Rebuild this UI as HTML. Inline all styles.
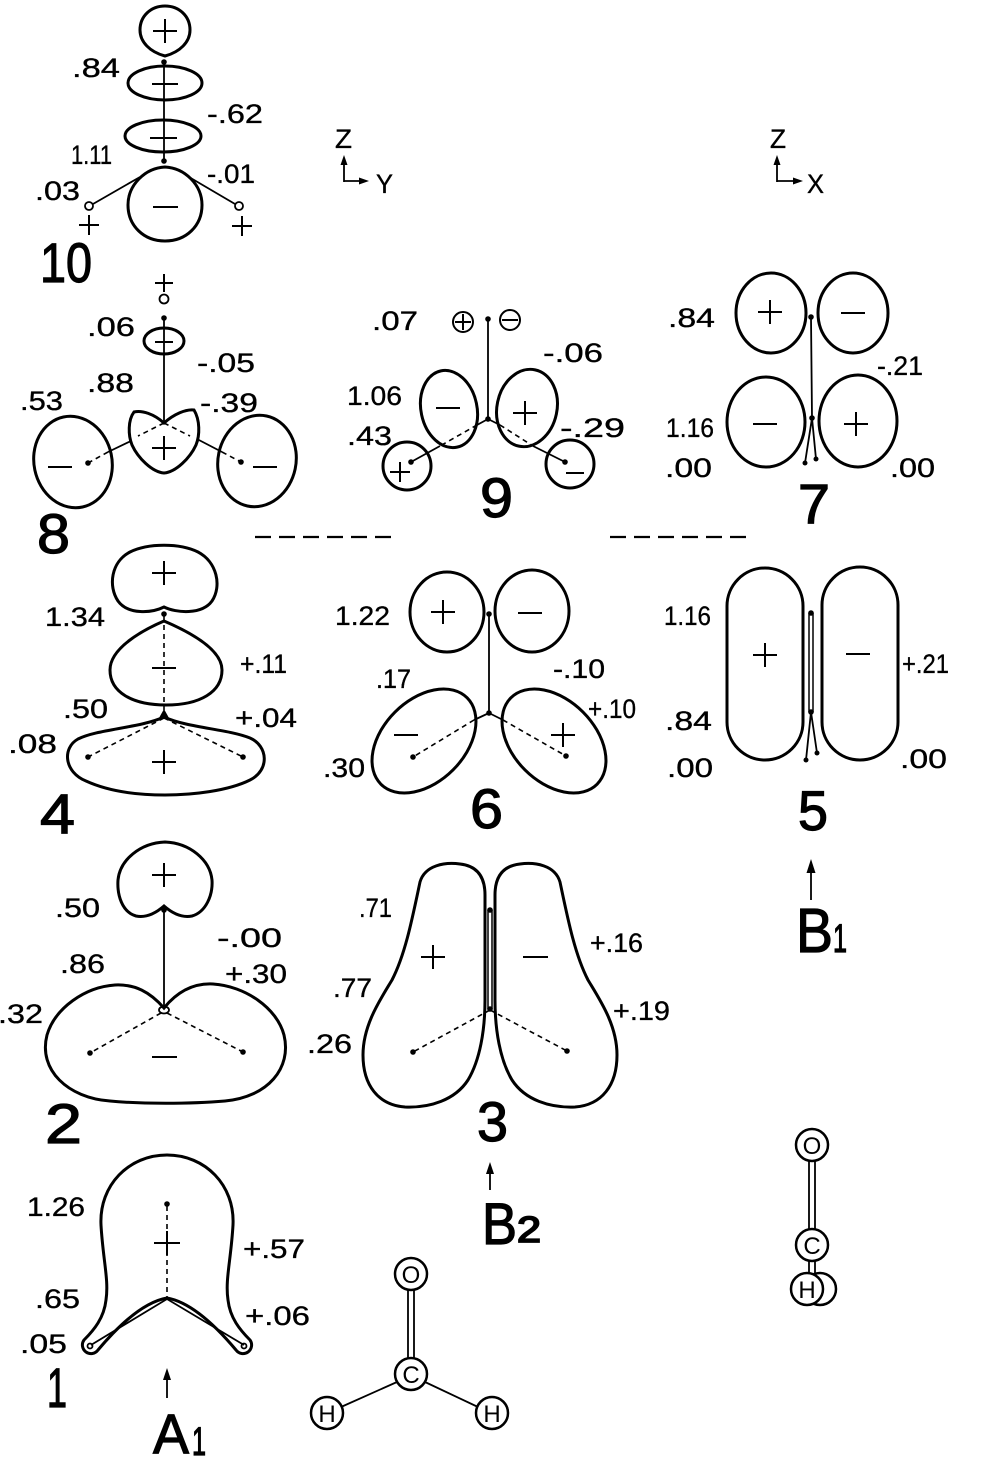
<!DOCTYPE html>
<html><head><meta charset="utf-8">
<style>
html,body{margin:0;padding:0;background:#fff;}
svg{display:block;}
text{font-family:"Liberation Sans",sans-serif;fill:#000;}
.l{font-size:27px;stroke:#000;stroke-width:0.35px;}
.big{font-size:56px;stroke:#000;stroke-width:1.2px;}
.o{fill:none;stroke:#000;stroke-width:3;}
.s{fill:none;stroke:#000;stroke-width:2;}
.t{fill:none;stroke:#000;stroke-width:1.8;}
.d{fill:none;stroke:#000;stroke-width:1.6;stroke-dasharray:5 4;}
.m{fill:#fff;stroke:#000;stroke-width:2.5;}
.ml{font-size:24px;}
</style></head><body>
<svg width="996" height="1462" viewBox="0 0 996 1462" xmlns="http://www.w3.org/2000/svg">
<rect width="996" height="1462" fill="#fff"/>

<!-- ===== Orbital 10 ===== -->
<path class="o" d="M165,56 C150,52 140,42 140,30 C140,16 151,6 165,6 C179,6 190,16 190,30 C190,42 180,52 165,56 Z"/>
<path class="s" d="M153,31h24M165,19v24"/>
<circle cx="164" cy="62" r="2.8"/>
<ellipse class="o" cx="165" cy="83" rx="37" ry="17"/>
<path class="s" d="M152,84h26"/>
<ellipse class="o" cx="163" cy="136" rx="38" ry="16"/>
<path class="s" d="M150,138h27"/>
<path class="t" d="M164,62V161"/>
<circle cx="164" cy="161" r="2.8"/>
<path class="o" d="M165,167 C185,168 202,185 202,205 C202,226 186,241 165,241 C144,241 128,226 128,205 C128,185 145,168 165,167 Z"/>
<path class="s" d="M153,207h25"/>
<path class="t" d="M140,177L93,204M189,177L235,204"/>
<circle class="t" cx="89" cy="206" r="4"/>
<circle class="t" cx="239" cy="206" r="4"/>
<path class="s" d="M79,225h20M89,215v20M232,226h20M242,216v20"/>
<text class="l" x="72" y="77" textLength="48" lengthAdjust="spacingAndGlyphs">.84</text>
<text class="l" x="207" y="123" textLength="56" lengthAdjust="spacingAndGlyphs">-.62</text>
<text class="l" x="71" y="164" textLength="41" lengthAdjust="spacingAndGlyphs">1.11</text>
<text class="l" x="207" y="183" textLength="48" lengthAdjust="spacingAndGlyphs">-.01</text>
<text class="l" x="35" y="200" textLength="45" lengthAdjust="spacingAndGlyphs">.03</text>
<text class="big" x="40" y="282" textLength="52" lengthAdjust="spacingAndGlyphs">10</text>

<!-- axes -->
<text class="l" x="335" y="148" textLength="17" lengthAdjust="spacingAndGlyphs">Z</text>
<path class="t" d="M344,182V162M344,181H361"/>
<path d="M344,155L340.5,165L347.5,165Z"/>
<path d="M369,181L359,177.5L359,184.5Z"/>
<text class="l" x="376" y="193" textLength="17" lengthAdjust="spacingAndGlyphs">Y</text>
<text class="l" x="770" y="148" textLength="16" lengthAdjust="spacingAndGlyphs">Z</text>
<path class="t" d="M777,182V162M777,181H795"/>
<path d="M777,155L773.5,165L780.5,165Z"/>
<path d="M803,181L793,177.5L793,184.5Z"/>
<text class="l" x="807" y="193" textLength="17" lengthAdjust="spacingAndGlyphs">X</text>

<!-- ===== Orbital 8 ===== -->
<path class="s" d="M155,283h18M164,274v18"/>
<circle class="t" cx="164" cy="299" r="4.5"/>
<circle cx="164" cy="318" r="2.8"/>
<ellipse class="o" cx="164" cy="341" rx="20" ry="13"/>
<path class="s" d="M155,342h18"/>
<path class="t" d="M164,318V423"/>
<path class="o" d="M164,423 C174,414 186,409 194,410 C200,420 200,435 196,445 C190,458 176,472 164,473 C152,472 138,458 132,445 C128,435 128,420 134,412 C142,410 154,414 164,423 Z"/>
<path class="s" d="M152,448h24M164,436v24"/>
<path class="d" d="M164,423L138,436M164,423L190,436"/>
<path class="t" d="M131,441L108,452M197,439L222,452"/>
<path class="d" d="M108,452L88,463M222,452L241,462"/>
<circle cx="88" cy="463" r="2.8"/><circle cx="241" cy="462" r="2.8"/>
<ellipse class="o" cx="73" cy="462" rx="39" ry="46" transform="rotate(-12 73 462)"/>
<ellipse class="o" cx="257" cy="461" rx="39" ry="46" transform="rotate(12 257 461)"/>
<path class="s" d="M48,467h24M253,467h24"/>
<text class="l" x="87" y="336" textLength="48" lengthAdjust="spacingAndGlyphs">.06</text>
<text class="l" x="87" y="392" textLength="47" lengthAdjust="spacingAndGlyphs">.88</text>
<text class="l" x="20" y="410" textLength="43" lengthAdjust="spacingAndGlyphs">.53</text>
<text class="l" x="197" y="372" textLength="58" lengthAdjust="spacingAndGlyphs">-.05</text>
<text class="l" x="200" y="412" textLength="58" lengthAdjust="spacingAndGlyphs">-.39</text>
<text class="big" x="37" y="553" textLength="33" lengthAdjust="spacingAndGlyphs">8</text>

<!-- ===== Orbital 9 ===== -->
<circle class="s" cx="463" cy="322" r="10"/><path class="s" d="M455,322h16M463,314v16"/>
<circle class="s" cx="510" cy="320" r="10"/><path class="s" d="M502,320h16"/>
<circle cx="488" cy="319" r="2.8"/>
<path class="t" d="M488,319V419"/>
<circle cx="488" cy="419" r="2.8"/>
<ellipse class="o" cx="449" cy="409" rx="28" ry="39" transform="rotate(-12 449 409)"/>
<ellipse class="o" cx="527" cy="408" rx="30" ry="39" transform="rotate(12 527 408)"/>
<path class="s" d="M436,408h24"/>
<path class="s" d="M513,413h24M525,401v24"/>
<path class="t" d="M488,419L477,425M488,419L500,425"/>
<path class="d" d="M477,425L440,446M500,425L533,446"/>
<path class="t" d="M440,446L411,462M533,446L565,462"/>
<circle class="o" cx="407" cy="466" r="24"/>
<circle class="o" cx="570" cy="464" r="24"/>
<circle cx="411" cy="462" r="2.8"/><circle cx="565" cy="462" r="2.8"/>
<path class="s" d="M390,472h20M400,462v20"/>
<path class="s" d="M566,473h18"/>
<text class="l" x="372" y="330" textLength="46" lengthAdjust="spacingAndGlyphs">.07</text>
<text class="l" x="543" y="362" textLength="60" lengthAdjust="spacingAndGlyphs">-.06</text>
<text class="l" x="347" y="405" textLength="55" lengthAdjust="spacingAndGlyphs">1.06</text>
<text class="l" x="347" y="445" textLength="45" lengthAdjust="spacingAndGlyphs">.43</text>
<text class="l" x="560" y="437" textLength="65" lengthAdjust="spacingAndGlyphs">-.29</text>
<text class="big" x="480" y="517" textLength="33" lengthAdjust="spacingAndGlyphs">9</text>

<!-- ===== Orbital 7 ===== -->
<ellipse class="o" cx="771" cy="313" rx="35" ry="40"/>
<ellipse class="o" cx="853" cy="313" rx="35" ry="40"/>
<ellipse class="o" cx="766" cy="422" rx="39" ry="45"/>
<ellipse class="o" cx="858" cy="421" rx="39" ry="46"/>
<circle cx="811" cy="317" r="2.8"/>
<circle cx="812" cy="418" r="2.8"/>
<path class="t" d="M811,317L812,418L805,463M812,418L816,459"/>
<circle cx="805" cy="463" r="2.5"/><circle cx="816" cy="459" r="2.5"/>
<path class="s" d="M758,312h24M770,300v24"/>
<path class="s" d="M841,313h24"/>
<path class="s" d="M753,424h24"/>
<path class="s" d="M844,424h24M856,412v24"/>
<text class="l" x="668" y="327" textLength="47" lengthAdjust="spacingAndGlyphs">.84</text>
<text class="l" x="877" y="375" textLength="46" lengthAdjust="spacingAndGlyphs">-.21</text>
<text class="l" x="666" y="437" textLength="48" lengthAdjust="spacingAndGlyphs">1.16</text>
<text class="l" x="665" y="477" textLength="47" lengthAdjust="spacingAndGlyphs">.00</text>
<text class="l" x="890" y="477" textLength="45" lengthAdjust="spacingAndGlyphs">.00</text>
<text class="big" x="798" y="523" textLength="32" lengthAdjust="spacingAndGlyphs">7</text>

<!-- dashed separators -->
<path fill="none" stroke="#000" stroke-width="2.2" stroke-dasharray="16 8" d="M255,537H392M610,537H747"/>

<!-- ===== Orbital 4 ===== -->
<path class="o" d="M164,607 C152,613 128,615 118,601 C108,586 111,562 130,552 C148,543 180,543 198,552 C217,562 222,586 212,601 C202,615 176,613 164,607 Z"/>
<path class="s" d="M152,573h24M164,561v24"/>
<circle cx="164" cy="614" r="2.8"/>
<path class="o" d="M164,621 C185,630 222,648 222,670 C222,692 200,705 166,705 C132,705 110,692 110,670 C110,648 143,630 164,621 Z"/>
<path class="s" d="M152,668h24"/>
<path class="d" d="M164,616V710"/>
<path d="M159,718L164,709L169,718Z"/>
<path class="o" d="M164,717 C140,728 98,729 78,739 C62,748 64,772 86,781 C110,792 140,795 165,795 C192,795 228,791 250,780 C270,770 268,746 250,738 C228,729 188,728 164,717 Z"/>
<path class="d" d="M164,718L88,757M164,718L243,757"/>
<circle cx="88" cy="757" r="2.8"/><circle cx="243" cy="757" r="2.8"/>
<path class="s" d="M152,762h24M164,750v24"/>
<text class="l" x="45" y="626" textLength="60" lengthAdjust="spacingAndGlyphs">1.34</text>
<text class="l" x="63" y="718" textLength="45" lengthAdjust="spacingAndGlyphs">.50</text>
<text class="l" x="240" y="673" textLength="47" lengthAdjust="spacingAndGlyphs">+.11</text>
<text class="l" x="235" y="727" textLength="62" lengthAdjust="spacingAndGlyphs">+.04</text>
<text class="l" x="8" y="753" textLength="49" lengthAdjust="spacingAndGlyphs">.08</text>
<text class="big" x="40" y="833" textLength="35" lengthAdjust="spacingAndGlyphs">4</text>

<!-- ===== Orbital 6 ===== -->
<ellipse class="o" cx="447" cy="612" rx="37" ry="40"/>
<ellipse class="o" cx="532" cy="611" rx="37" ry="41"/>
<circle cx="489" cy="614" r="2.8"/>
<path class="t" d="M489,614V713"/>
<circle cx="489" cy="713" r="2.8"/>
<ellipse class="o" cx="424" cy="741" rx="61" ry="41" transform="rotate(-45 424 741)"/>
<ellipse class="o" cx="554" cy="741" rx="61" ry="41" transform="rotate(45 554 741)"/>
<path class="t" d="M489,713L474,720M489,713L503,720"/>
<path class="d" d="M474,720L413,757M503,720L566,756"/>
<circle cx="413" cy="757" r="2.8"/><circle cx="566" cy="756" r="2.8"/>
<path class="s" d="M431,612h24M443,600v24"/>
<path class="s" d="M518,613h24"/>
<path class="s" d="M394,735h24"/>
<path class="s" d="M551,735h24M563,723v24"/>
<text class="l" x="335" y="625" textLength="55" lengthAdjust="spacingAndGlyphs">1.22</text>
<text class="l" x="376" y="688" textLength="35" lengthAdjust="spacingAndGlyphs">.17</text>
<text class="l" x="553" y="678" textLength="52" lengthAdjust="spacingAndGlyphs">-.10</text>
<text class="l" x="588" y="718" textLength="48" lengthAdjust="spacingAndGlyphs">+.10</text>
<text class="l" x="323" y="777" textLength="42" lengthAdjust="spacingAndGlyphs">.30</text>
<text class="big" x="470" y="828" textLength="33" lengthAdjust="spacingAndGlyphs">6</text>

<!-- ===== Orbital 5 ===== -->
<rect class="o" x="727" y="568" width="76" height="192" rx="38"/>
<rect class="o" x="822" y="567" width="76" height="193" rx="38"/>
<circle cx="811" cy="613" r="2.8"/><circle cx="811" cy="712" r="2.8"/>
<path fill="none" stroke="#000" stroke-width="1.5" d="M809,613V712M813,613V712"/>
<path class="t" d="M811,712L806,760M811,712L817,753"/>
<circle cx="806" cy="760" r="2.5"/><circle cx="817" cy="753" r="2.5"/>
<path class="s" d="M753,655h24M765,643v24"/>
<path class="s" d="M846,654h24"/>
<path class="t" d="M811,900V870"/>
<path d="M811,859L806.5,873L815.5,873Z"/>
<text class="l" x="664" y="625" textLength="47" lengthAdjust="spacingAndGlyphs">1.16</text>
<text class="l" x="665" y="730" textLength="47" lengthAdjust="spacingAndGlyphs">.84</text>
<text class="l" x="667" y="777" textLength="46" lengthAdjust="spacingAndGlyphs">.00</text>
<text class="l" x="902" y="673" textLength="47" lengthAdjust="spacingAndGlyphs">+.21</text>
<text class="l" x="900" y="768" textLength="47" lengthAdjust="spacingAndGlyphs">.00</text>
<text class="big" x="798" y="830" textLength="30" lengthAdjust="spacingAndGlyphs">5</text>
<text class="big" style="font-size:62px" x="796" y="952" textLength="37" lengthAdjust="spacingAndGlyphs">B</text>
<text class="big" style="font-size:40px" x="833" y="952" textLength="14" lengthAdjust="spacingAndGlyphs">1</text>

<!-- ===== Orbital 2 ===== -->
<path class="o" d="M164,906 C156,913 146,918 136,916 C122,912 117,895 118,880 C120,860 140,843 165,842 C190,843 210,860 212,880 C213,895 206,912 192,916 C182,918 172,913 164,906 Z"/>
<path class="s" d="M152,875h24M164,863v24"/>
<circle cx="164" cy="910" r="2.8"/>
<path class="t" d="M164,910V1006"/>
<path class="o" d="M164,1008 C150,992 135,984 115,985 C85,987 55,1008 47,1035 C38,1070 68,1098 110,1101 C140,1104 190,1104 225,1101 C268,1097 292,1068 284,1035 C277,1008 245,986 213,984 C193,983 177,992 164,1008 Z"/>
<ellipse class="t" cx="164" cy="1010" rx="5" ry="3.5"/>
<path class="d" d="M161,1013L90,1053M167,1013L243,1052"/>
<circle cx="90" cy="1053" r="2.8"/><circle cx="243" cy="1052" r="2.8"/>
<path class="s" d="M152,1057h25"/>
<text class="l" x="55" y="917" textLength="45" lengthAdjust="spacingAndGlyphs">.50</text>
<text class="l" x="60" y="973" textLength="45" lengthAdjust="spacingAndGlyphs">.86</text>
<text class="l" x="-2" y="1023" textLength="45" lengthAdjust="spacingAndGlyphs">.32</text>
<text class="l" x="217" y="947" textLength="65" lengthAdjust="spacingAndGlyphs">-.00</text>
<text class="l" x="225" y="983" textLength="62" lengthAdjust="spacingAndGlyphs">+.30</text>
<text class="big" x="45" y="1143" textLength="37" lengthAdjust="spacingAndGlyphs">2</text>

<!-- ===== Orbital 3 ===== -->
<path class="o" d="M420,882 C425,865 445,862 460,864 C478,866 485,878 485,895 L485,1000 C485,1030 480,1060 468,1080 C455,1100 430,1108 405,1107 C378,1105 363,1085 363,1055 C363,1025 380,1000 392,980 C405,955 412,920 420,882 Z"/>
<path class="o" d="M560,882 C555,865 535,862 520,864 C502,866 495,878 495,895 L495,1000 C495,1030 500,1060 512,1080 C525,1100 550,1108 575,1107 C602,1105 617,1085 617,1055 C617,1025 600,1000 588,980 C575,955 568,920 560,882 Z"/>
<circle cx="490" cy="910" r="2.8"/><circle cx="490" cy="1009" r="2.8"/>
<path fill="none" stroke="#000" stroke-width="1.5" d="M488,910V1009M492,910V1009"/>
<path class="d" d="M490,1010L413,1052M490,1010L567,1051"/>
<circle cx="413" cy="1052" r="2.8"/><circle cx="567" cy="1051" r="2.8"/>
<path class="s" d="M421,957h24M433,945v24"/>
<path class="s" d="M523,957h25"/>
<path class="t" d="M490,1190V1172"/>
<path d="M490,1162L486,1174L494,1174Z"/>
<text class="l" x="359" y="917" textLength="33" lengthAdjust="spacingAndGlyphs">.71</text>
<text class="l" x="333" y="997" textLength="39" lengthAdjust="spacingAndGlyphs">.77</text>
<text class="l" x="307" y="1053" textLength="45" lengthAdjust="spacingAndGlyphs">.26</text>
<text class="l" x="590" y="952" textLength="53" lengthAdjust="spacingAndGlyphs">+.16</text>
<text class="l" x="613" y="1020" textLength="57" lengthAdjust="spacingAndGlyphs">+.19</text>
<text class="big" x="477" y="1141" textLength="31" lengthAdjust="spacingAndGlyphs">3</text>
<text class="big" style="font-size:58px" x="482" y="1244" textLength="35" lengthAdjust="spacingAndGlyphs">B</text>
<text class="big" style="font-size:36px;stroke-width:1.8px" x="517" y="1242" textLength="24" lengthAdjust="spacingAndGlyphs">2</text>

<!-- ===== Orbital 1 ===== -->
<path class="o" d="M167,1155 C205,1155 235,1185 233,1225 C231,1260 225,1280 228,1300 C230,1318 240,1330 250,1340 A8.6,8.6 0 0 1 236,1350 C215,1325 190,1302 167,1298 C144,1302 119,1325 98,1350 A8.6,8.6 0 0 1 84,1340 C94,1330 104,1318 106,1300 C109,1280 103,1260 101,1225 C99,1185 129,1155 167,1155 Z"/>
<path class="t" d="M91,1345L167,1299L244,1345"/>
<circle class="t" cx="90" cy="1346" r="2.5"/>
<circle class="t" cx="244" cy="1346" r="2.5"/>
<circle cx="167" cy="1204" r="2.8"/>
<path class="d" d="M167,1206V1297"/>
<path class="s" d="M154,1243h26M167,1231v24"/>
<path class="t" d="M167,1398V1378"/>
<path d="M167,1368L163,1380L171,1380Z"/>
<text class="l" x="27" y="1216" textLength="58" lengthAdjust="spacingAndGlyphs">1.26</text>
<text class="l" x="35" y="1308" textLength="45" lengthAdjust="spacingAndGlyphs">.65</text>
<text class="l" x="20" y="1353" textLength="47" lengthAdjust="spacingAndGlyphs">.05</text>
<text class="l" x="243" y="1258" textLength="62" lengthAdjust="spacingAndGlyphs">+.57</text>
<text class="l" x="245" y="1325" textLength="65" lengthAdjust="spacingAndGlyphs">+.06</text>
<text class="big" x="47" y="1407" textLength="20" lengthAdjust="spacingAndGlyphs">1</text>
<text class="big" x="153" y="1453" textLength="36" lengthAdjust="spacingAndGlyphs">A</text>
<text class="big" style="font-size:40px" x="192" y="1455" textLength="14" lengthAdjust="spacingAndGlyphs">1</text>

<!-- ===== Formaldehyde (front view) ===== -->
<path fill="none" stroke="#000" stroke-width="1.8" d="M408,1290V1358M414,1290V1358"/>
<path class="t" d="M397,1382L341,1407M425,1382L478,1407"/>
<circle class="m" cx="411" cy="1274" r="16"/>
<text class="ml" x="411" y="1283" text-anchor="middle">O</text>
<circle class="m" cx="411" cy="1374" r="16"/>
<text class="ml" x="411" y="1383" text-anchor="middle">C</text>
<circle class="m" cx="327" cy="1413" r="16"/>
<text class="ml" x="327" y="1422" text-anchor="middle">H</text>
<circle class="m" cx="492" cy="1413" r="16"/>
<text class="ml" x="492" y="1422" text-anchor="middle">H</text>

<!-- ===== Formaldehyde (side view) ===== -->
<path fill="none" stroke="#000" stroke-width="1.8" d="M809,1161V1229M815,1161V1229M809,1261V1275M815,1261V1275"/>
<circle class="m" cx="812" cy="1145" r="16"/>
<text class="ml" x="812" y="1154" text-anchor="middle">O</text>
<circle class="m" cx="812" cy="1245" r="16"/>
<text class="ml" x="812" y="1254" text-anchor="middle">C</text>
<circle class="m" cx="820" cy="1289" r="16"/>
<circle class="m" cx="807" cy="1289" r="16"/>
<text class="ml" x="807" y="1298" text-anchor="middle">H</text>
</svg>
</body></html>
